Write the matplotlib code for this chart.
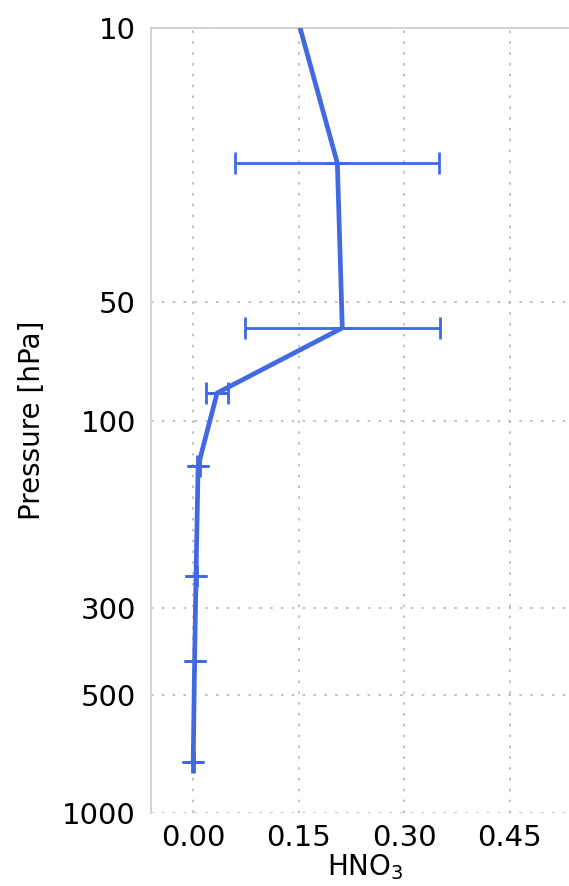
import numpy as np
import matplotlib
matplotlib.use("Agg")
import matplotlib.pyplot as plt
from matplotlib.ticker import NullLocator

# Data
pressure = [10, 22.1, 58.1, 85.1, 130.6, 248.5, 410, 740]     # hPa
hno3 = [0.152, 0.205, 0.212, 0.034, 0.007, 0.004, 0.002, 0.000]
hno3_err = [np.nan, 0.145, 0.139, 0.016, 0.002, 0.001, 0.001, 0.001]

yticks = [10, 50, 100, 300, 500, 1000]
ytick_labels = ["10", "50", "100", "300", "500", "1000"]
xticks = [0.00, 0.15, 0.30, 0.45]
xtick_labels = ["0.00", "0.15", "0.30", "0.45"]

W, H = 569, 886
fig = plt.figure(figsize=(W / 100, H / 100), dpi=100)
ax = fig.add_axes([151 / W, 1 - 813 / H, (580 - 151) / W, (813 - 28) / H])

color = "royalblue"
ax.plot(hno3, pressure, color=color, lw=3.4, zorder=3, solid_capstyle="round")

p = np.array(pressure)
x = np.array(hno3)
e = np.array(hno3_err)
m = ~np.isnan(e)
ax.errorbar(x[m], p[m], xerr=e[m], yerr=np.zeros(m.sum()), fmt="none",
            ecolor=color, elinewidth=2.0, capsize=8, capthick=2.0, zorder=3)

ax.set_yscale("log")
ax.set_ylim(1000, 10)
ax.set_yticks(yticks)
ax.set_yticklabels(ytick_labels)
ax.yaxis.set_minor_locator(NullLocator())
ax.set_xlim(-0.06, 0.55)
ax.set_xticks(xticks)
ax.set_xticklabels(xtick_labels)

ax.tick_params(axis="both", length=0, labelsize=21)
ax.tick_params(axis="y", pad=11)
ax.tick_params(axis="x", pad=8)

ax.grid(True, color="#b5b5b5", linestyle=(0, (1.5, 5)), linewidth=1.2, zorder=0)
ax.set_axisbelow(True)

for s in ["left", "top"]:
    ax.spines[s].set_color("#cccccc")
    ax.spines[s].set_linewidth(1.2)
ax.spines["bottom"].set_visible(False)
ax.spines["right"].set_visible(False)

ax.set_ylabel("Pressure [hPa]", fontsize=20)
ax.yaxis.set_label_coords(-0.245, 0.5)
ax.set_xlabel("HNO$_3$", fontsize=20, labelpad=0)

fig.savefig("out.png", dpi=100)
